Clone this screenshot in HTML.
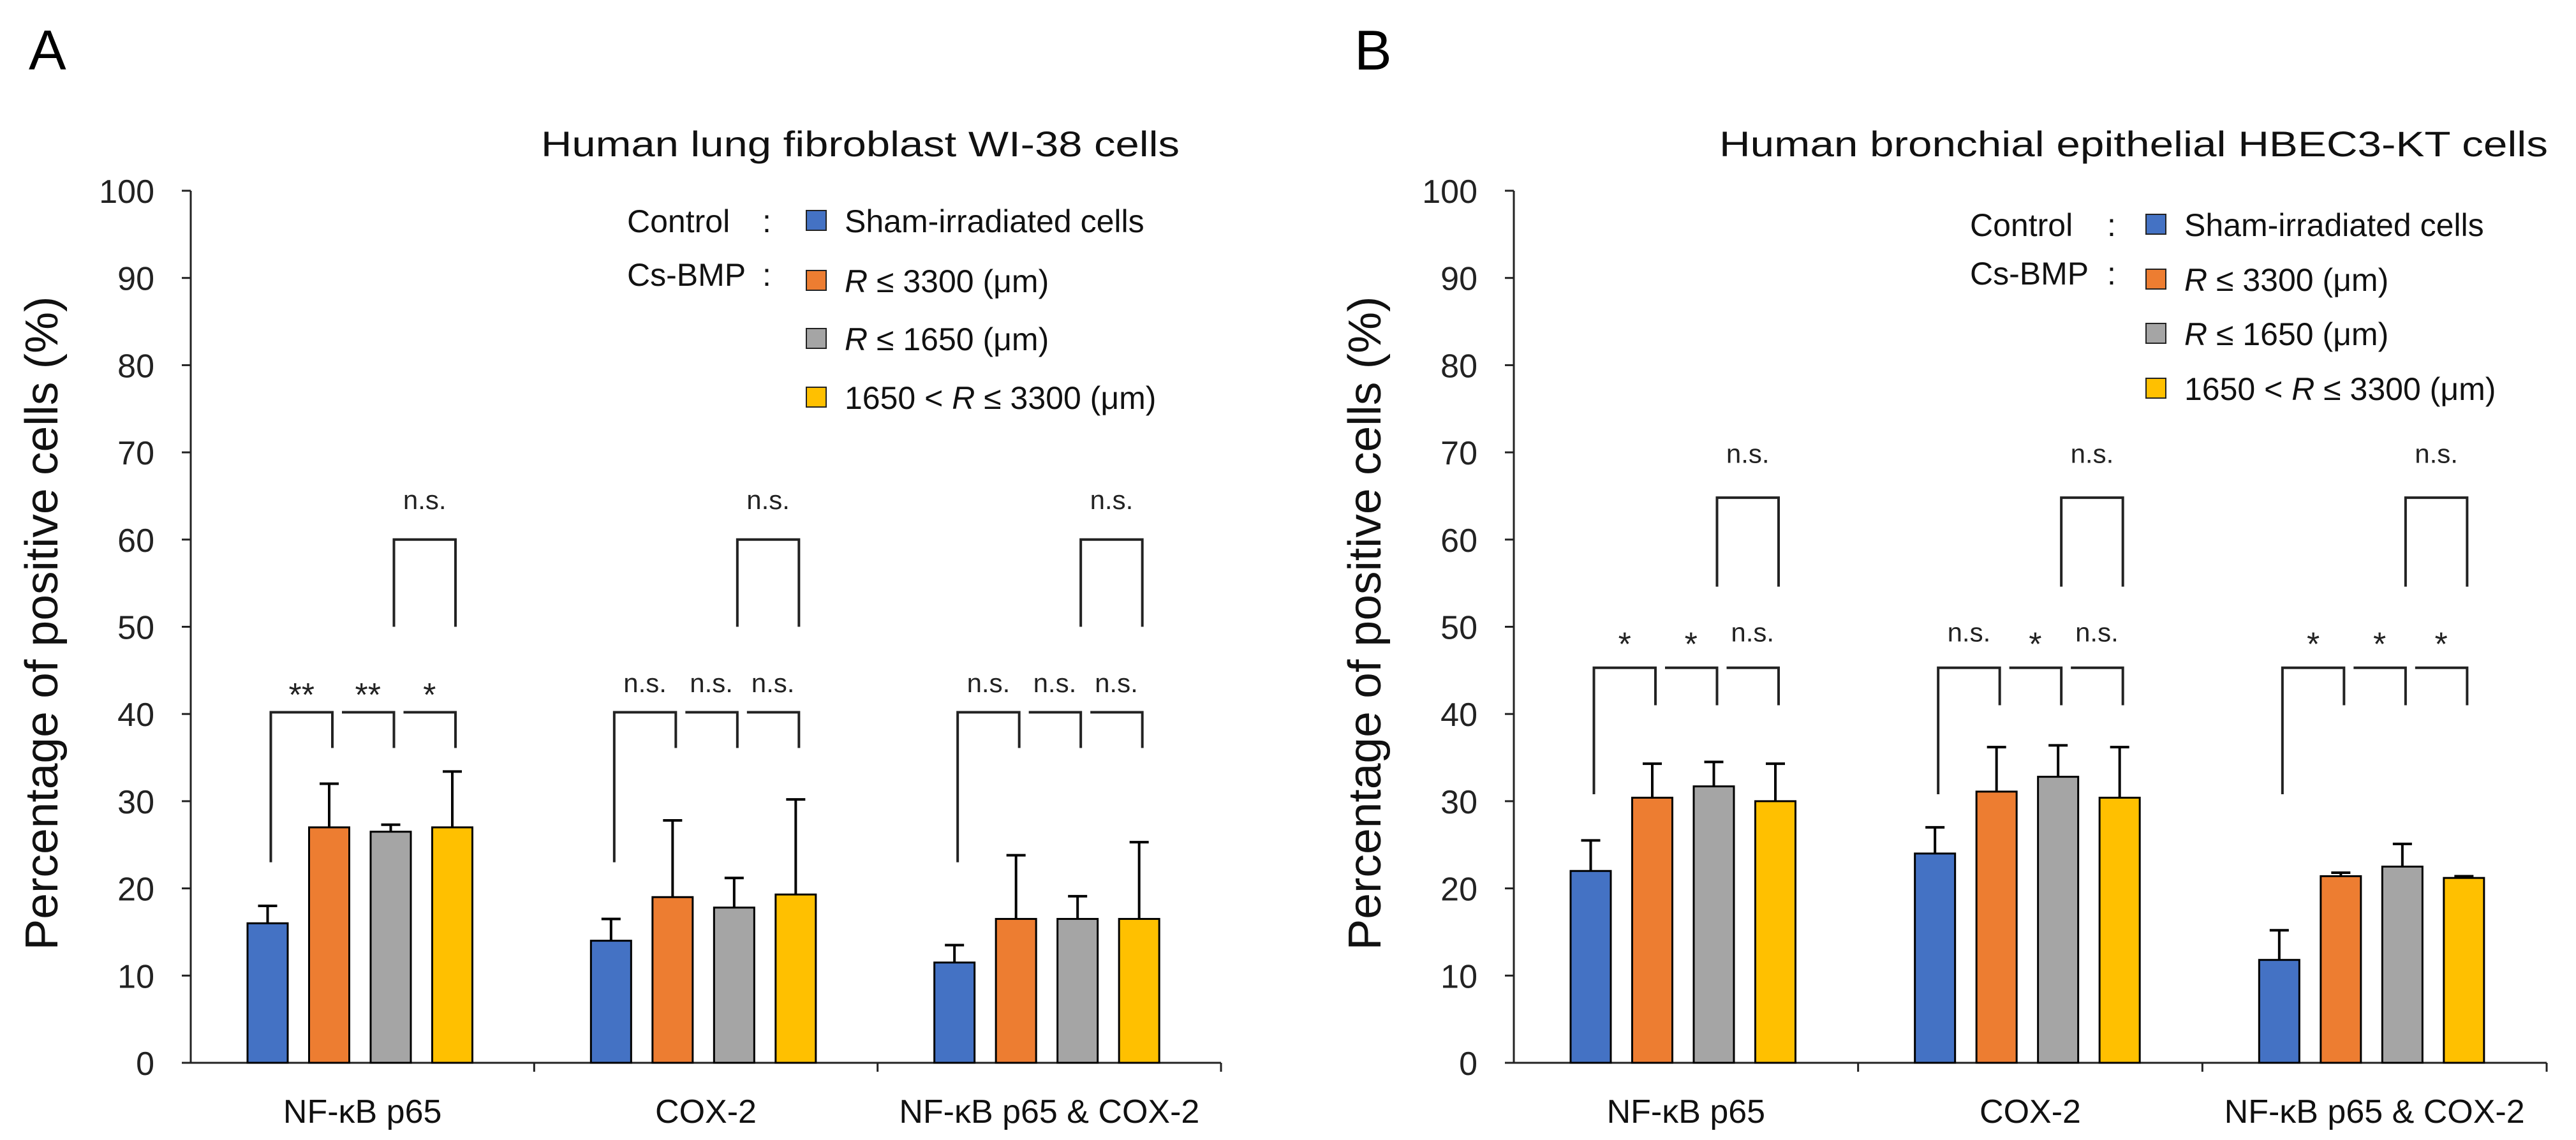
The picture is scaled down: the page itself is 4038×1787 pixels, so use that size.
<!DOCTYPE html>
<html><head><meta charset="utf-8"><style>
html,body{margin:0;padding:0;background:#fff}
svg{display:block;font-family:"Liberation Sans",Arial,sans-serif}
</style></head><body>
<svg id="chart" width="4038" height="1787" viewBox="0 0 4038 1787" xmlns="http://www.w3.org/2000/svg"></svg>
<script>
const categories = ["NF-κB p65", "COX-2", "NF-κB p65 & COX-2"];
const seriesNames = ["Sham-irradiated cells", "R ≤ 3300 (μm)", "R ≤ 1650 (μm)", "1650 < R ≤ 3300 (μm)"];
const yTicks = [0,10,20,30,40,50,60,70,80,90,100];
// Panel A means and error tops
const aMeans = [[16,27,26.5,27],[14,19,17.8,19.3],[11.5,16.5,16.5,16.5]];
const aErrTop = [[18,32,27.3,33.4],[16.5,27.8,21.2,30.2],[13.5,23.8,19.1,25.3]];
const aSig = [["**","**","*"],["n.s.","n.s.","n.s."],["n.s.","n.s.","n.s."]];
const aUpperSig = ["n.s.","n.s.","n.s."];
// Panel B
const bMeans = [[22,30.4,31.7,30],[24,31.1,32.8,30.4],[11.8,21.4,22.5,21.2]];
const bErrTop = [[25.5,34.3,34.5,34.3],[27,36.2,36.4,36.2],[15.2,21.8,25.1,21.4]];
const bSig = [["*","*","n.s."],["n.s.","*","n.s."],["*","*","*"]];
const bUpperSig = ["n.s.","n.s.","n.s."];
const colors = ["#4472C4","#ED7D31","#A5A5A5","#FFC000"];
const NS = "http://www.w3.org/2000/svg";
const svg = document.getElementById('chart');
function mk(tag, attrs, parent, text){
  const e = document.createElementNS(NS, tag);
  for (const k in attrs) e.setAttribute(k, attrs[k]);
  if (text !== undefined) e.textContent = text;
  (parent||svg).appendChild(e);
  return e;
}
function panel(cfg){
  const g = mk('g', {});
  
  
  const y0 = 1666, unit = 13.67;
  const yS = v => y0 - v*unit;
  const ax = cfg.axisX, axEnd = cfg.axisEnd, G = (axEnd-ax)/3;
  const L = mk('text', {x: cfg.letterX, y: 109, 'font-size': 88, fill:'#000'}, g, cfg.letter);
  
  
  const T = mk('text', {x: cfg.titleX, y: 245, 'font-size': 56, fill:'#111', textLength: cfg.titleW, lengthAdjust:'spacingAndGlyphs'}, g, cfg.title);
  
  
  const ya = mk('line', {x1: ax, y1: yS(100), x2: ax, y2: y0, stroke:'#222', 'stroke-width':3}, g);
  
  
  yTicks.forEach(t => {
    mk('line', {x1: ax-14, y1: yS(t), x2: ax, y2: yS(t), stroke:'#222','stroke-width':3}, g);
    const tl = mk('text', {x: ax-57, y: yS(t)+19, 'font-size': 52, 'text-anchor':'end', fill:'#222'}, g, String(t));
    
    
  });
  const yt = mk('text', {x: 0, y: 0, 'font-size': 72, 'text-anchor':'middle', fill:'#111', transform:`translate(${cfg.yTitleX},977) rotate(-90)`, textLength: 1025, lengthAdjust:'spacingAndGlyphs'}, g, "Percentage of positive cells (%)");
  
  
  const xa = mk('line', {x1: ax, y1: y0, x2: axEnd, y2: y0, stroke:'#222','stroke-width':3}, g);
  
  
  for (let k=1;k<=3;k++) mk('line', {x1: ax+k*G, y1: y0, x2: ax+k*G, y2: y0+14, stroke:'#222','stroke-width':3}, g);
  categories.forEach((c, gi) => {
    const cl = mk('text', {x: ax+G*gi+G/2, y: 1760, 'font-size': 52, 'text-anchor':'middle', fill:'#111'}, g, c);
    
    
    const centers = [];
    for (let i=0;i<4;i++){
      const left = ax + G*gi + 89 + i*96.5, w = 63;
      const cx = left + w/2; centers.push(cx);
      const v = cfg.means[gi][i], e = cfg.err[gi][i];
      const eb = mk('line', {x1: cx, y1: yS(v), x2: cx, y2: yS(e), stroke:'#000','stroke-width':4}, g);
      
      
      mk('line', {x1: cx-15, y1: yS(e), x2: cx+15, y2: yS(e), stroke:'#000','stroke-width':4}, g);
      const r = mk('rect', {x: left, y: yS(v), width: w, height: y0-yS(v), fill: colors[i], stroke:'#000','stroke-width':3}, g);
      
      
    }
    const bt = yS(cfg.brTop), bl = yS(cfg.brLeft), br = yS(cfg.brRight);
    for (let j=0;j<3;j++){
      const xs = j===0 ? centers[0]+5 : centers[j]+20;
      const xe = centers[j+1]+5;
      const p = mk('path', {d:`M${xs},${j===0?bl:bt} L${xs},${bt} L${xe},${bt} L${xe},${br}`, fill:'none', stroke:'#222','stroke-width':4}, g);
      
      
      const s = cfg.sig[gi][j];
      const isStar = s.indexOf('*')>=0;
      const sl = mk('text', {x:(xs+xe)/2, y: yS(cfg.sigY) + (isStar?22:0), 'font-size': isStar?52:42, 'text-anchor':'middle', fill:'#222'}, g, s);
      
      
    }
    const ux1 = centers[2]+5, ux2 = centers[3]+5;
    const up = mk('path', {d:`M${ux1},${yS(cfg.upBot)} L${ux1},${yS(cfg.upTop)} L${ux2},${yS(cfg.upTop)} L${ux2},${yS(cfg.upBot)}`, fill:'none', stroke:'#222','stroke-width':4}, g);
    
    
    const ul = mk('text', {x:(ux1+ux2)/2, y: yS(cfg.upSigY), 'font-size':42, 'text-anchor':'middle', fill:'#222'}, g, cfg.upSig[gi]);
    
    
  });
  const lg = mk('g', {}, g);
  
  
  mk('text', {x: cfg.legX, y: cfg.legRows[0]+18, 'font-size':50, fill:'#111'}, lg, "Control");
  mk('text', {x: cfg.colonX, y: cfg.legRows[0]+18, 'font-size':50, fill:'#111'}, lg, ":");
  mk('text', {x: cfg.legX, y: cfg.legRows[1]+8, 'font-size':50, fill:'#111'}, lg, "Cs-BMP");
  mk('text', {x: cfg.colonX, y: cfg.legRows[1]+8, 'font-size':50, fill:'#111'}, lg, ":");
  cfg.legRows.forEach((ry, i) => {
    const sq = mk('rect', {x: cfg.sqX, y: ry-16, width: 31, height: 31, fill: colors[i], stroke:'#222','stroke-width':2}, lg);
    
    
    const t = mk('text', {x: cfg.sqX+60, y: ry+18, 'font-size':50, fill:'#111'}, lg);
    
    
    if (i===0) t.textContent = seriesNames[0];
    else {
      const parts = seriesNames[i].split('R');
      mk('tspan', {}, t, parts[0]);
      mk('tspan', {'font-style':'italic'}, t, 'R');
      mk('tspan', {}, t, parts[1]);
    }
  });
}
panel({name:'panel-a', letter:'A', letterX:45, axisX:299, axisEnd:1914, title:'Human lung  fibroblast WI-38 cells', titleX:848, titleW:1001,
  yTitleX:90, means:aMeans, err:aErrTop, sig:aSig, upSig:aUpperSig,
  brTop:40.2, brLeft:23, brRight:36.1, sigY:42.5, upTop:60, upBot:50, upSigY:63.5,
  legX:983, colonX:1195, sqX:1264, legRows:[346,440,531,623]});
panel({name:'panel-b', letter:'B', letterX:2123, axisX:2373, axisEnd:3992, title:'Human bronchial epithelial  HBEC3-KT cells', titleX:2695, titleW:1299,
  yTitleX:2164, means:bMeans, err:bErrTop, sig:bSig, upSig:bUpperSig,
  brTop:45.3, brLeft:30.8, brRight:41, sigY:48.3, upTop:64.8, upBot:54.6, upSigY:68.8,
  legX:3088, colonX:3303, sqX:3364, legRows:[352,438,523,609]});
</script>
</body></html>
